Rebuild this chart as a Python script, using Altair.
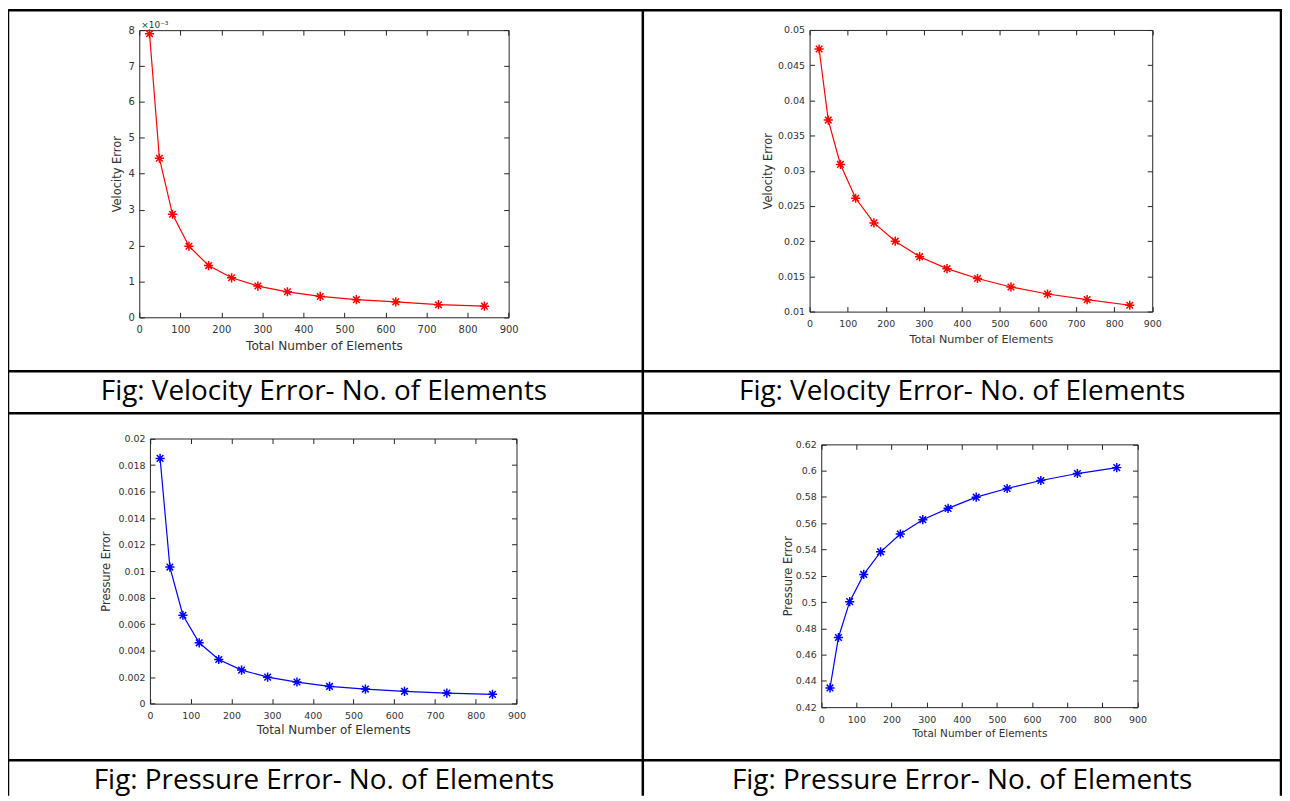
import altair as alt
import pandas as pd

# ---------------- data ----------------
elements = [25, 49, 81, 121, 169, 225, 289, 361, 441, 529, 625, 729, 841]
velocity_error_a = [0.00790, 0.00443, 0.00287, 0.00198, 0.00144, 0.00110, 0.00087,
                    0.00071, 0.00058, 0.00049, 0.00043, 0.00035, 0.00031]
velocity_error_b = [0.0473, 0.0372, 0.0309, 0.0261, 0.0226, 0.0200, 0.0178,
                    0.0161, 0.0147, 0.0135, 0.0125, 0.0117, 0.0109]
pressure_error_a = [0.0185, 0.0103, 0.00667, 0.00459, 0.00333, 0.00253, 0.00200,
                    0.00163, 0.00130, 0.00110, 0.00093, 0.00080, 0.00070]
pressure_error_b = [0.4346, 0.4730, 0.5003, 0.5210, 0.5382, 0.5518, 0.5627,
                    0.5713, 0.5798, 0.5864, 0.5925, 0.5978, 0.6023]

x_ticks = [0, 100, 200, 300, 400, 500, 600, 700, 800, 900]
y_ticks_vel_a = [0, 0.001, 0.002, 0.003, 0.004, 0.005, 0.006, 0.007, 0.008]
y_ticks_vel_b = [0.01, 0.015, 0.02, 0.025, 0.03, 0.035, 0.04, 0.045, 0.05]
y_ticks_pres_a = [0, 0.002, 0.004, 0.006, 0.008, 0.01, 0.012, 0.014, 0.016, 0.018, 0.02]
y_ticks_pres_b = [0.42, 0.44, 0.46, 0.48, 0.5, 0.52, 0.54, 0.56, 0.58, 0.6, 0.62]

x_title = "Total Number of Elements"
y_title_vel = "Velocity Error"
y_title_pres = "Pressure Error"
caption_vel = "Fig: Velocity Error- No. of Elements"
caption_pres = "Fig: Pressure Error- No. of Elements"
exponent_label = "×10⁻³"

# ---------------- layout ----------------
W, H = 1281, 790
AXIS_FONT = "DejaVu Sans"
TXT = "#333333"
FRAME = "#262626"
STAR = "M-1,0L1,0M0,-1L0,1M-0.72,-0.72L0.72,0.72M-0.72,0.72L0.72,-0.72"


def panel(values, color, ydomain, yticks, box, ytitle, ytitle_dx, xtitle_dy,
          label_size, xtitle_size, ylabel_expr=None):
    x0, x1, yb, yt = box
    df = pd.DataFrame({"n": elements, "err": values})
    xs = alt.Scale(domain=[0, 900], range=[x0, x1], nice=False, zero=False)
    ys = alt.Scale(domain=ydomain, range=[yb, yt], nice=False, zero=False)
    base = alt.Chart(df)
    common = dict(labelFont=AXIS_FONT, titleFont=AXIS_FONT, labelColor=TXT,
                  titleColor=TXT, domainColor=FRAME, tickColor=FRAME,
                  domainWidth=1, tickWidth=1, grid=False, titleFontWeight="normal")
    yfmt = dict(labelExpr=ylabel_expr) if ylabel_expr else dict(format="~g")

    line = base.mark_line(color=color, strokeWidth=1.2).encode(
        x=alt.X("n:Q", scale=xs, axis=alt.Axis(
            orient="bottom", offset=yb - H, values=x_ticks, ticks=False,
            labelPadding=12, labelBaseline="middle", labelFlush=False,
            labelFontSize=label_size, title=x_title, titleX=(x0 + x1) / 2,
            titleY=xtitle_dy, titleBaseline="middle", titleAlign="center",
            titleFontSize=xtitle_size, **common)),
        y=alt.Y("err:Q", scale=ys, axis=alt.Axis(
            orient="left", offset=-x0, values=yticks, ticks=False,
            labelPadding=5, labelFontSize=label_size, labelFlush=False,
            title=ytitle, titleX=ytitle_dx, titleY=(yb + yt) / 2,
            titleAngle=270, titleBaseline="middle", titleAlign="center",
            titleFontSize=11.5, **yfmt, **common)),
    )
    pts = base.mark_point(shape=STAR, filled=False, size=85, strokeWidth=1.5,
                          color=color, opacity=1).encode(
        x=alt.X("n:Q", scale=xs, axis=alt.Axis(
            orient="top", offset=-yb, values=x_ticks, labels=False, domain=False,
            tickSize=5, title=None, **common)),
        y=alt.Y("err:Q", scale=ys, axis=alt.Axis(
            orient="right", offset=x0 - W, values=yticks, labels=False,
            domain=False, tickSize=5, title=None, **common)),
    )
    frame = base.mark_point(opacity=0).encode(
        x=alt.X("n:Q", scale=xs, axis=alt.Axis(
            orient="bottom", offset=yt - H, values=x_ticks, labels=False,
            domain=True, tickSize=5, title=None, **common)),
        y=alt.Y("err:Q", scale=ys, axis=alt.Axis(
            orient="left", offset=-x1, values=yticks, labels=False,
            domain=True, tickSize=5, title=None, **common)),
    )
    return alt.layer(line, pts, frame).resolve_axis(x="independent", y="independent")


p1 = panel(velocity_error_a, "#ff0000", [0, 0.008], y_ticks_vel_a,
           (132.0, 503.4, 308.8, 20.1), y_title_vel, -22, 28, 10, 12.2,
           ylabel_expr="round(datum.value * 1000)")
p2 = panel(velocity_error_b, "#ff0000", [0.01, 0.05], y_ticks_vel_b,
           (806.0, 1150.5, 303.1, 19.9), y_title_vel, -41, 28, 9.5, 11.2)
p3 = panel(pressure_error_a, "#0000ff", [0, 0.02], y_ticks_pres_a,
           (142.7, 511.3, 697.3, 430.7), y_title_pres, -44, 26.5, 9.5, 12)
p4 = panel(pressure_error_b, "#0000ff", [0.42, 0.62], y_ticks_pres_b,
           (817.7, 1135.7, 700.8, 436.6), y_title_pres, -33, 27, 9.5, 10.5)

exponent = alt.Chart(pd.DataFrame({"t": [exponent_label]})).mark_text(
    font=AXIS_FONT, fontSize=9, color=TXT, align="left", baseline="middle"
).encode(x=alt.value(134), y=alt.value(14.5), text="t:N")

# table grid (layout geometry, pixel space)
table_rules = pd.DataFrame({
    "xa": [0, 0, 638.3, 1280, 0, 0, 0],
    "xb": [1281, 0, 638.3, 1280, 1281, 1281, 1281],
    "ya": [0, 0, 0, 0, 363, 405.3, 754.3],
    "yb": [0, 790, 790, 790, 363, 405.3, 754.3],
})
rules = alt.Chart(table_rules).mark_rule(color="black", strokeWidth=2.5).encode(
    x=alt.X("xa:Q", scale=None), x2="xb:Q",
    y=alt.Y("ya:Q", scale=None), y2="yb:Q")

cap_df = pd.DataFrame({
    "caption": [caption_vel, caption_vel, caption_pres, caption_pres],
    "cx": [317.7, 959.4, 317.7, 959.4],
    "cy": [392.0, 392.0, 783.3, 783.3],
})
caps = alt.Chart(cap_df).mark_text(
    font="Open Sans", fontSize=28, color="black", align="center", baseline="alphabetic"
).encode(x=alt.X("cx:Q", scale=None), y=alt.Y("cy:Q", scale=None), text="caption:N")

chart = alt.layer(p1, p2, p3, p4, exponent, rules, caps).resolve_scale(
    x="independent", y="independent").resolve_axis(
    x="independent", y="independent").properties(
    width=W, height=H, autosize=alt.AutoSizeParams(type="none"), padding=0,
    background="white").configure_view(stroke=None)

chart.save("out.html", embed_options={"renderer": "svg", "actions": False})
